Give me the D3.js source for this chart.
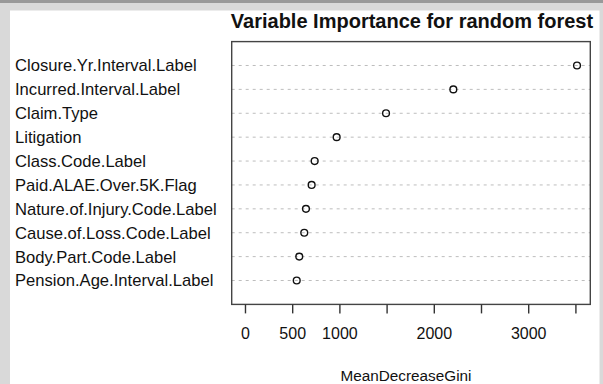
<!DOCTYPE html>
<html lang="en">
  <head>
    <script src="https://d3js.org/d3.v7.min.js"></script>
    <meta charset="utf-8">
    <style>
      body { margin: 0; background: #d9d9d9; }
      svg text { font-family: "Liberation Sans", Arial, sans-serif; fill: #111; }
    </style>
  </head>
  <body>
    <svg id="chart" width="603" height="384"></svg>
  </body>
</html>

<script>
    // variables, top to bottom
    const variables = [
        "Closure.Yr.Interval.Label",
        "Incurred.Interval.Label",
        "Claim.Type",
        "Litigation",
        "Class.Code.Label",
        "Paid.ALAE.Over.5K.Flag",
        "Nature.of.Injury.Code.Label",
        "Cause.of.Loss.Code.Label",
        "Body.Part.Code.Label",
        "Pension.Age.Interval.Label"
    ];
    const giniValues = [3517, 2207, 1494, 971, 738, 706, 646, 628, 575, 548];
    const tickValues = [0, 500, 1000, 1500, 2000, 2500, 3000, 3500];
    const tickLabels = ["0", "500", "1000", "", "2000", "", "3000", ""];

    const svg = d3.select("#chart");

    // panel + top strip
    svg.append("rect").attr("x", 0).attr("y", 0).attr("width", 603).attr("height", 3).attr("fill", "#999");
    svg.append("rect").attr("x", 10).attr("y", 10.5).attr("width", 589.5).attr("height", 374).attr("fill", "#fff");

    const box = { left: 231.7, right: 590.3, top: 41.6, bottom: 304.4 };

    // R style: xlim = c(0, max), expanded by 4%
    const maxV = d3.max(giniValues);
    const x = d3.scaleLinear()
        .domain([-0.04 * maxV, 1.04 * maxV])
        .range([box.left, box.right]);

    // rows 1..n from bottom, ylim 0..n+1
    const n = variables.length;
    const y = d3.scaleLinear()
        .domain([0, n + 1])
        .range([box.bottom, box.top]);
    const rowY = (d, i) => y(n - i);

    // dotted guide lines
    svg.append("g")
        .selectAll("line")
        .data(variables)
        .enter().append("line")
        .attr("x1", box.left)
        .attr("x2", box.right)
        .attr("y1", rowY)
        .attr("y2", rowY)
        .attr("stroke", "#bdbdbd")
        .attr("stroke-width", 1)
        .attr("stroke-dasharray", "3,4");

    // box
    svg.append("rect")
        .attr("x", box.left)
        .attr("y", box.top)
        .attr("width", box.right - box.left)
        .attr("height", box.bottom - box.top)
        .attr("fill", "none")
        .attr("stroke", "#444")
        .attr("stroke-width", 1.4);

    // points
    svg.append("g")
        .selectAll("circle")
        .data(giniValues)
        .enter().append("circle")
        .attr("cx", d => x(d))
        .attr("cy", rowY)
        .attr("r", 3.4)
        .attr("fill", "none")
        .attr("stroke", "#111")
        .attr("stroke-width", 1.4);

    // row labels
    svg.append("g")
        .selectAll("text")
        .data(variables)
        .enter().append("text")
        .attr("x", 15)
        .attr("y", rowY)
        .attr("dy", "0.36em")
        .attr("font-size", "16.6px")
        .text(d => d);

    // x axis
    const xAxis = d3.axisBottom(x)
        .tickValues(tickValues)
        .tickSize(9)
        .tickPadding(14)
        .tickFormat((d, i) => tickLabels[i]);

    const gx = svg.append("g")
        .attr("transform", `translate(0,${box.bottom})`)
        .call(xAxis);
    gx.select(".domain").remove();
    gx.selectAll(".tick line").attr("stroke", "#333").attr("stroke-width", 1.4);
    gx.selectAll(".tick text")
        .attr("font-family", "Liberation Sans, Arial, sans-serif")
        .attr("font-size", "16px")
        .attr("fill", "#111");

    // axis title
    svg.append("text")
        .attr("x", (box.left + box.right) / 2 - 5)
        .attr("y", 380.5)
        .attr("text-anchor", "middle")
        .attr("font-size", "15.3px")
        .text("MeanDecreaseGini");

    // main title
    svg.append("text")
        .attr("x", (box.left + box.right) / 2 + 1)
        .attr("y", 28)
        .attr("text-anchor", "middle")
        .attr("font-size", "20px")
        .attr("font-weight", "bold")
        .text("Variable Importance for random forest");
</script>
